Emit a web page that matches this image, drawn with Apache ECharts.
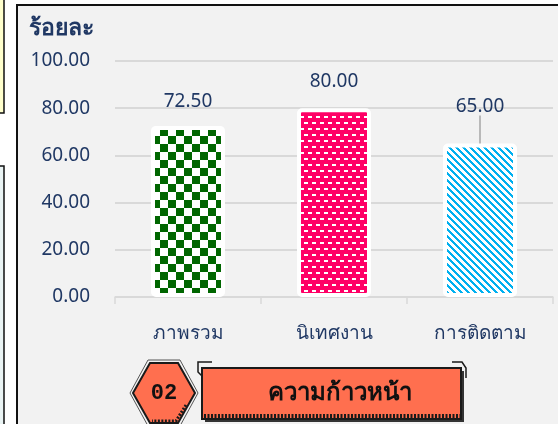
<!DOCTYPE html>
<html>
<head>
<meta charset="utf-8">
<script src="https://cdn.jsdelivr.net/npm/echarts@6/dist/echarts.min.js"></script>
<style>
  html, body { margin: 0; padding: 0; background: #fff; }
  #chart { width: 558px; height: 424px; }
</style>
</head>
<body>
<div id="chart"></div>
<script>
const categories = ['ภาพรวม', 'นิเทศงาน', 'การติดตาม']
const values = [72.5, 80, 65]
const labelGaps = [15, 17, 15]
const yName = 'ร้อยละ'
const bannerNo = '02'
const bannerText = 'ความก้าวหน้า'

const navy = '#203864'
const font = 'Tahoma, "Noto Sans", "DejaVu Sans", sans-serif'

// little canvas tiles for the hatched bars
function tile (w, h, draw) {
  const c = document.createElement('canvas')
  c.width = w
  c.height = h
  const ctx = c.getContext('2d')
  ctx.fillStyle = '#fff'
  ctx.fillRect(0, 0, w, h)
  draw(ctx)
  return c
}

const checker = tile(16, 16, ctx => {
  ctx.fillStyle = '#006600'
  ctx.fillRect(0, 0, 8, 8)
  ctx.fillRect(8, 8, 8, 8)
})

const bricks = tile(8, 12, ctx => {
  ctx.fillStyle = '#FF0066'
  ctx.fillRect(0, 0, 8, 12)
  ctx.fillStyle = '#fff'
  ctx.fillRect(0, 2, 4, 2)
  ctx.fillRect(4, 8, 4, 2)
})

const stripes = tile(7, 7, ctx => {
  ctx.fillStyle = '#00B0F0'
  for (let y = 0; y < 7; y++) {
    for (let x = 0; x < 7; x++) {
      if (((x - y) % 7 + 7) % 7 < 3) ctx.fillRect(x, y, 1, 1)
    }
  }
})

const fills = [checker, bricks, stripes]

const chart = echarts.init(document.getElementById('chart'), null, { renderer: 'canvas' })

const barData = values.map((v, i) => {
  const item = {
    value: v,
    itemStyle: { color: { image: fills[i], repeat: 'repeat' } },
    label: { distance: labelGaps[i] }
  }
  if (i === 2) {
    item.labelLine = { show: true, lineStyle: { color: '#A6A6A6', width: 1.5 } }
  }
  return item
})

const option = {
  backgroundColor: '#fff',
  animation: false,
  textStyle: { fontFamily: font },
  title: {
    text: yName,
    left: 29,
    top: 17,
    padding: 0,
    textStyle: { color: navy, fontSize: 23, fontWeight: 'bold', fontFamily: font }
  },
  grid: { left: 115, right: 5, top: 61, bottom: 127 },
  xAxis: {
    type: 'category',
    data: categories,
    axisLine: { lineStyle: { color: '#D9D9D9', width: 1.5 } },
    axisTick: { show: true, length: 7, lineStyle: { color: '#D9D9D9', width: 1.5 } },
    axisLabel: { color: navy, fontSize: 19, margin: 27, fontFamily: font }
  },
  yAxis: {
    type: 'value',
    min: 0,
    max: 100,
    interval: 20,
    axisLine: { show: false },
    axisTick: { show: false },
    splitLine: { lineStyle: { color: '#D9D9D9', width: 2 } },
    axisLabel: {
      color: navy,
      fontSize: 19,
      margin: 25,
      fontFamily: font,
      formatter: v => v.toFixed(2)
    }
  },
  series: [{
    type: 'bar',
    data: barData,
    barWidth: 74,
    itemStyle: { borderColor: '#fff', borderWidth: 4, borderRadius: 3 },
    label: {
      show: true,
      position: 'top',
      color: navy,
      fontSize: 19,
      fontFamily: font,
      formatter: p => p.value.toFixed(2)
    },
    labelLayout: p => (p.dataIndex === 2 ? { dy: -13 } : {})
  }],
  graphic: [
    // side boxes and the panel behind the chart
    { type: 'rect', z: -20, shape: { x: -2, y: -2, width: 6, height: 115 }, style: { fill: '#FFFFCC', stroke: '#111', lineWidth: 1.5 } },
    { type: 'rect', z: -20, shape: { x: -2, y: 166, width: 6, height: 270 }, style: { fill: '#EAF4F4', stroke: '#111', lineWidth: 1.5 } },
    { type: 'rect', z: -20, shape: { x: 17, y: 5, width: 560, height: 440 }, style: { fill: '#F2F2F2', stroke: '#111', lineWidth: 2 } },
    // banner: hexagon with number
    {
      type: 'polygon', z: 10,
      shape: { points: [[133, 393], [150, 363], [178, 363], [195, 393], [178, 423], [150, 423]] },
      style: { fill: '#FF6F4F', stroke: '#1a1a1a', lineWidth: 2 }
    },
    {
      type: 'polygon', z: 9,
      shape: { points: [[130, 393], [148, 360], [180, 360], [198, 393], [180, 426], [148, 426]] },
      style: { fill: null, stroke: '#555', lineWidth: 1 }
    },
    {
      type: 'polyline', z: 10,
      shape: { points: [[186, 405], [176, 421], [152, 421]] },
      style: { stroke: '#1a1a1a', lineWidth: 3, lineDash: [2, 1.5], fill: null }
    },
    {
      type: 'text', z: 11, x: 164, y: 393,
      style: { text: bannerNo, fill: '#111', font: 'bold 22px "Liberation Mono", "DejaVu Sans Mono", monospace', align: 'center', verticalAlign: 'middle' }
    },
    // banner: main plate
    { type: 'rect', z: 9, shape: { x: 205, y: 371, width: 259, height: 51 }, style: { fill: '#333' } },
    { type: 'rect', z: 10, shape: { x: 202, y: 368, width: 259, height: 51 }, style: { fill: '#FF6F4F', stroke: '#1a1a1a', lineWidth: 2 } },
    {
      type: 'line', z: 11,
      shape: { x1: 204, y1: 416, x2: 460, y2: 416 },
      style: { stroke: '#1a1a1a', lineWidth: 4, lineDash: [2, 1.5] }
    },
    {
      type: 'polyline', z: 11,
      shape: { points: [[202, 376], [198, 372], [198, 362], [212, 362]] },
      style: { stroke: '#1a1a1a', lineWidth: 1.5, fill: null }
    },
    {
      type: 'polyline', z: 11,
      shape: { points: [[452, 362], [462, 362], [466, 368], [466, 378]] },
      style: { stroke: '#1a1a1a', lineWidth: 1.5, fill: null }
    },
    {
      type: 'text', z: 12, x: 340, y: 393,
      style: { text: bannerText, fill: '#111', font: 'bold 24px ' + font, align: 'center', verticalAlign: 'middle' }
    }
  ]
}

chart.setOption(option)
window.addEventListener('resize', chart.resize)
</script>
</body>
</html>
